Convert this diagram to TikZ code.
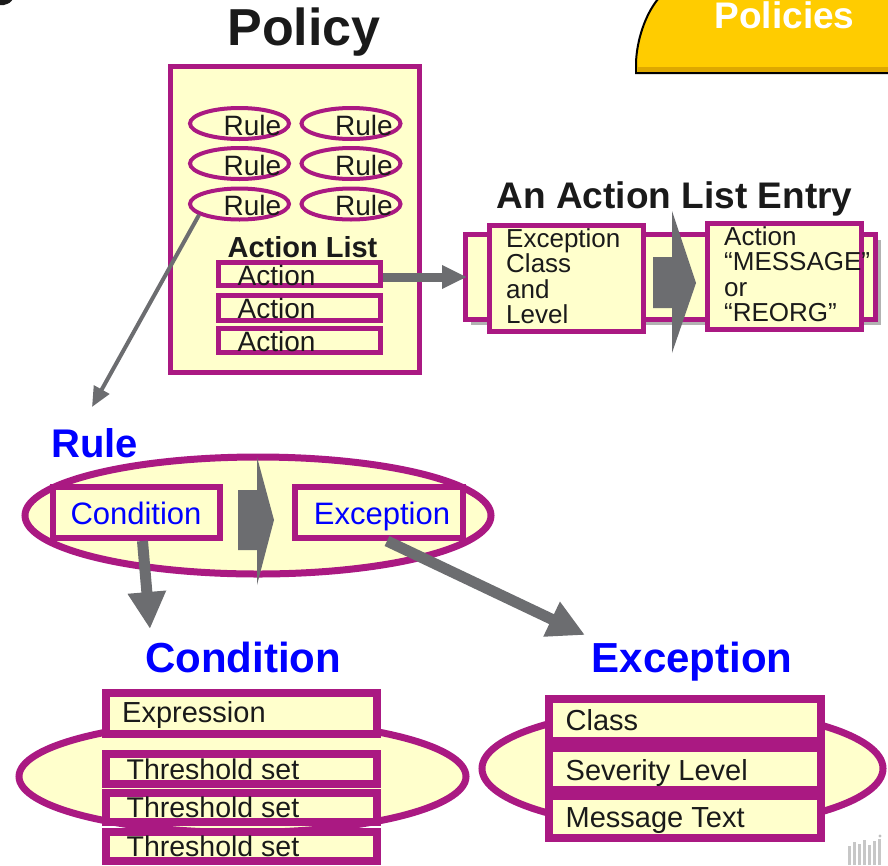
\documentclass[tikz,border=0pt]{standalone}
\usepackage{fontspec}
\setmainfont{Liberation Sans}
\usetikzlibrary{arrows.meta,shapes.geometric,shadows}

\definecolor{plum}{RGB}{170,25,130}
\definecolor{cream}{RGB}{255,255,204}
\definecolor{arrowgray}{RGB}{108,109,112}
\definecolor{tabgold}{RGB}{255,204,0}
\definecolor{tabdark}{RGB}{222,168,0}
\definecolor{ink}{RGB}{26,26,26}
\definecolor{titleblue}{RGB}{0,0,255}

\newcommand\pxsize[1]{\fontsize{#1pt}{#1pt}\selectfont}

\begin{document}
\begin{tikzpicture}[x=1pt,y=-1pt,
  frame/.style={draw=plum, fill=cream, rectangle, inner sep=0pt},
  oval/.style={draw=plum, fill=cream, ellipse, inner sep=0pt},
  txt/.style={inner sep=0pt, text=ink},
  bluetxt/.style={inner sep=0pt, text=titleblue},
  thinarrow/.style={draw=arrowgray, line width=4pt, -{Triangle[length=20pt,width=17pt]}},
  midarrow/.style={draw=arrowgray, line width=9pt, -{Triangle[length=25pt,width=22pt]}},
  bigarrow/.style={draw=arrowgray, line width=11pt, -{Triangle[length=37pt,width=36pt]}},
  blockarrow/.style={fill=arrowgray},
  entryshadow/.style={drop shadow={shadow xshift=5pt, shadow yshift=-5pt, fill=black!30, opacity=1}}
]
\useasboundingbox (0,0) rectangle (888,865);

% tail of a glyph at the top-left edge
\fill[ink] (0,-1) -- (13,-1) .. controls (10,3) .. (4,5) -- (0,5) -- cycle;

% ---------- "Policies" tab ----------
\fill[tabgold] (636,73) -- (636,62) .. controls (637,40) and (645,15) .. (658,-1) -- (889,-1) -- (889,73) -- cycle;
\fill[tabdark] (638,67) -- (889,67) -- (889,73) -- (638,73) -- cycle;
\draw[black, line width=2pt] (889,73) -- (636,73) -- (636,62) .. controls (637,40) and (645,15) .. (658,-1);
\node[txt, anchor=base, font=\bfseries\pxsize{37}, text=white] (tabtitle) at (784.5,28) {Policies};

% ---------- Policy ----------
\node[txt, anchor=base, font=\bfseries\pxsize{52}] (policytitle) at (304,45) {Policy};
\node[frame, line width=5pt, minimum width=249pt, minimum height=306pt] (policy) at (294.5,219) {};

\node[oval, line width=4pt, minimum width=99pt, minimum height=31pt] (r11) at (239.5,123.5) {};
\node[oval, line width=4pt, minimum width=99pt, minimum height=31pt] (r12) at (351,123.5) {};
\node[oval, line width=4pt, minimum width=99pt, minimum height=31pt] (r21) at (239.5,163.5) {};
\node[oval, line width=4pt, minimum width=99pt, minimum height=31pt] (r22) at (351,163.5) {};
\node[oval, line width=4pt, minimum width=99pt, minimum height=31pt] (r31) at (239.5,204) {};
\node[oval, line width=4pt, minimum width=99pt, minimum height=31pt] (r32) at (351,204) {};
\foreach \cx/\by in {252.5/135, 364/135, 252.5/175, 364/175, 252.5/215, 364/215}
  \node[txt, anchor=base, font=\pxsize{28}] at (\cx,\by) {Rule};

\node[txt, anchor=base, font=\bfseries\pxsize{29}] (altitle) at (302.5,257) {Action List};
\node[frame, line width=5pt, minimum width=162pt, minimum height=23pt] (a1) at (299.5,274) {};
\node[frame, line width=5pt, minimum width=162pt, minimum height=25pt] (a2) at (299.5,308) {};
\node[frame, line width=5pt, minimum width=162pt, minimum height=24pt] (a3) at (299.5,340.5) {};
\node[txt, anchor=base, font=\pxsize{28}] at (276.5,285) {Action};
\node[txt, anchor=base, font=\pxsize{28}] at (276.5,318) {Action};
\node[txt, anchor=base, font=\pxsize{28}] at (276.5,351) {Action};

% ---------- An Action List Entry ----------
\node[txt, anchor=base, font=\bfseries\pxsize{37}] (entrytitle) at (674.5,208) {An Action List Entry};
\node[frame, line width=5pt, minimum width=410pt, minimum height=85pt, entryshadow] (entry) at (670.5,277) {};
\node[frame, line width=5pt, minimum width=154pt, minimum height=106pt] (exclevel) at (566.5,278.5) {};
\node[frame, line width=5pt, minimum width=154pt, minimum height=106pt] (actkind) at (784.5,276.5) {};
\fill[blockarrow] (653,257) -- (672,257) -- (672,211) -- (696,283) -- (672,353) -- (672,308) -- (653,308) -- cycle;
\foreach \by/\t in {247/Exception, 272/Class, 298/and, 323/Level}
  \node[txt, anchor=base west, font=\pxsize{26}] at (506,\by) {\t};
\foreach \by/\t in {245/Action, 270/“MESSAGE”, 296/or, 321/“REORG”}
  \node[txt, anchor=base west, font=\pxsize{26}] at (724,\by) {\t};

% ---------- Rule ----------
\node[bluetxt, anchor=base, font=\bfseries\pxsize{40}] (ruletitle) at (94.5,457) {Rule};
\node[oval, line width=7pt, minimum width=466pt, minimum height=117pt] (ruleoval) at (258,515.5) {};
\node[frame, line width=6pt, minimum width=167pt, minimum height=51pt] (condbox) at (136.5,512.5) {};
\node[frame, line width=6pt, minimum width=168pt, minimum height=51pt] (excbox) at (379,512.5) {};
\fill[blockarrow] (238,490) -- (257,490) -- (257,457) -- (274,520) -- (257,585) -- (257,550) -- (238,550) -- cycle;
\node[bluetxt, anchor=base, font=\pxsize{31}] at (136,524) {Condition};
\node[bluetxt, anchor=base, font=\pxsize{31}] at (382,524) {Exception};

% ---------- Condition ----------
\node[bluetxt, anchor=base, font=\bfseries\pxsize{42}] (condtitle) at (243,672) {Condition};
\node[oval, line width=7pt, minimum width=447pt, minimum height=112pt] (condoval) at (242.5,776.5) {};
\node[frame, line width=8pt, minimum width=271pt, minimum height=41pt] (expr) at (241.5,713.5) {};
\node[frame, line width=8pt, minimum width=271pt, minimum height=30pt] (t1) at (241.5,769) {};
\node[frame, line width=8pt, minimum width=271pt, minimum height=29pt] (t2) at (241.5,807.5) {};
\node[frame, line width=8pt, minimum width=271pt, minimum height=29pt] (t3) at (241.5,846.5) {};
\node[txt, anchor=base west, font=\pxsize{29}] at (122,722) {Expression};
\foreach \by in {779, 817, 856}
  \node[txt, anchor=base west, font=\pxsize{28.5}] at (126.4,\by) {Threshold set};

% ---------- Exception ----------
\node[bluetxt, anchor=base, font=\bfseries\pxsize{42}] (exctitle) at (692,672) {Exception};
\node[oval, line width=7pt, minimum width=401pt, minimum height=120pt] (excoval) at (682.5,768.5) {};
\node[frame, line width=8pt, minimum width=272pt, minimum height=42pt] (e1) at (685,720) {};
\node[frame, line width=8pt, minimum width=272pt, minimum height=42pt] (e2) at (685,769) {};
\node[frame, line width=8pt, minimum width=272pt, minimum height=42pt] (e3) at (685,817) {};
\node[txt, anchor=base west, font=\pxsize{29}] at (565.5,730) {Class};
\node[txt, anchor=base west, font=\pxsize{29}] at (565.5,780) {Severity Level};
\node[txt, anchor=base west, font=\pxsize{29}] at (565.5,827) {Message Text};

% ---------- connectors ----------
\coordinate (ruletip) at (92,407);
\coordinate (condtip) at (150,629);
\coordinate (exctip) at (585,635);
\draw[thinarrow] (r31.195) -- (ruletip);
\draw[midarrow, shorten >=-4pt] (a1.east |- entry.west) -- (entry.west);
\draw[bigarrow] ([xshift=6pt]condbox.south) -- (condtip);
\draw[bigarrow] ([xshift=8pt]excbox.south) -- (exctip);

% faint mark in the lower right corner
\foreach \bx/\bt in {848/846, 853/842, 858/844, 863/840, 868/845, 873/841, 878/839}
  \fill[black!22] (\bx,\bt) rectangle (\bx+3,865);
\fill[black!25] (880,836) circle (1.6);
\end{tikzpicture}
\end{document}
